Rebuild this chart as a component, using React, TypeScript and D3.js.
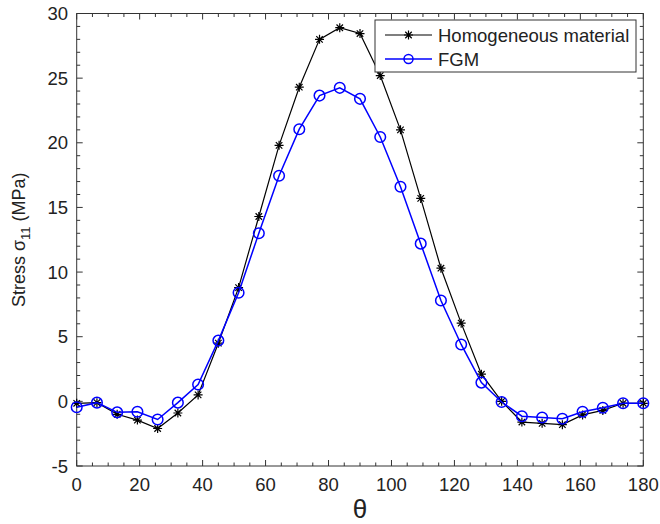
import React from "react";
import * as d3 from "d3";

const thetas = [0, 6.43, 12.86, 19.29, 25.71, 32.14, 38.57, 45, 51.43, 57.86, 64.29, 70.71, 77.14, 83.57, 90, 96.43, 102.86, 109.29, 115.71, 122.14, 128.57, 135, 141.43, 147.86, 154.29, 160.71, 167.14, 173.57, 180];
const homogeneous = [-0.15, -0.1, -1.0, -1.45, -2.1, -0.9, 0.5, 4.5, 8.8, 14.3, 19.8, 24.3, 28.0, 28.9, 28.45, 25.2, 21.0, 15.7, 10.3, 6.05, 2.1, 0.0, -1.6, -1.7, -1.8, -1.05, -0.7, -0.15, -0.15];
const fgm = [-0.45, -0.1, -0.85, -0.8, -1.4, -0.1, 1.3, 4.7, 8.4, 13.0, 17.45, 21.05, 23.65, 24.25, 23.4, 20.45, 16.6, 12.2, 7.8, 4.4, 1.45, -0.05, -1.15, -1.25, -1.35, -0.8, -0.5, -0.15, -0.15];
const xTicks = [0, 20, 40, 60, 80, 100, 120, 140, 160, 180];
const yTicks = [-5, 0, 5, 10, 15, 20, 25, 30];
const seriesNames = ["Homogeneous material", "FGM"];

const W = 660, H = 524;
const L = 76.7, R = 643.3, T = 13.5, B = 466;
const FONT = "'Liberation Sans', Arial, sans-serif";
const AX = "#333";

function Star({ x, y, r = 4.5 }: { x: number; y: number; r?: number }) {
  const d = r * 0.72;
  return (
    <path
      d={`M${x - r},${y}L${x + r},${y}M${x},${y - r}L${x},${y + r}M${x - d},${y - d}L${x + d},${y + d}M${x - d},${y + d}L${x + d},${y - d}`}
      stroke="#000"
      strokeWidth={1.2}
      fill="none"
    />
  );
}

export default function App() {
  const x = d3.scaleLinear().domain([0, 180]).range([L, R]);
  const y = d3.scaleLinear().domain([-5, 30]).range([B, T]);
  const line = d3
    .line<[number, number]>()
    .x((d) => x(d[0]))
    .y((d) => y(d[1]));
  const hData = thetas.map((t, i) => [t, homogeneous[i]] as [number, number]);
  const fData = thetas.map((t, i) => [t, fgm[i]] as [number, number]);
  const xMinor = d3.range(0, 181, 5).filter((v) => v % 20 !== 0);
  const yMinor = d3.range(-5, 31, 1).filter((v) => v % 5 !== 0);
  const MJ = 6, MN = 3.5;

  return (
    <svg width={W} height={H} style={{ position: "absolute", left: 0, top: 0, background: "#fff" }} fontFamily={FONT}>
      <rect x={0} y={0} width={W} height={H} fill="#fff" />
      {/* ticks */}
      <g stroke={AX} strokeWidth={1}>
        {xTicks.map((v) => (
          <g key={"xt" + v}>
            <line x1={x(v)} x2={x(v)} y1={B} y2={B - MJ} />
            <line x1={x(v)} x2={x(v)} y1={T} y2={T + MJ} />
          </g>
        ))}
        {xMinor.map((v) => (
          <g key={"xm" + v}>
            <line x1={x(v)} x2={x(v)} y1={B} y2={B - MN} />
            <line x1={x(v)} x2={x(v)} y1={T} y2={T + MN} />
          </g>
        ))}
        {yTicks.map((v) => (
          <g key={"yt" + v}>
            <line x1={L} x2={L + MJ} y1={y(v)} y2={y(v)} />
            <line x1={R} x2={R - MJ} y1={y(v)} y2={y(v)} />
          </g>
        ))}
        {yMinor.map((v) => (
          <g key={"ym" + v}>
            <line x1={L} x2={L + MN} y1={y(v)} y2={y(v)} />
            <line x1={R} x2={R - MN} y1={y(v)} y2={y(v)} />
          </g>
        ))}
      </g>
      <rect x={L} y={T} width={R - L} height={B - T} fill="none" stroke={AX} strokeWidth={1} />
      {/* tick labels */}
      <g fontSize={18.5} fill="#222">
        {xTicks.map((v) => (
          <text key={"xl" + v} x={x(v)} y={491} textAnchor="middle">
            {v}
          </text>
        ))}
        {yTicks.map((v) => (
          <text key={"yl" + v} x={68} y={y(v)} textAnchor="end" dominantBaseline="central">
            {v}
          </text>
        ))}
      </g>
      {/* axis labels */}
      <text x={(L + R) / 2} y={518} textAnchor="middle" fontSize={26} fill="#222">
        θ
      </text>
      <text
        transform={`translate(25,${(T + B) / 2}) rotate(-90)`}
        textAnchor="middle"
        fontSize={18}
        fill="#222"
      >
        Stress σ<tspan fontSize={13} dy={5}>11</tspan>
        <tspan dy={-5}> (MPa)</tspan>
      </text>
      {/* series */}
      <path d={line(hData) || ""} fill="none" stroke="#000" strokeWidth={1.2} />
      {hData.map((d, i) => (
        <Star key={"h" + i} x={x(d[0])} y={y(d[1])} />
      ))}
      <path d={line(fData) || ""} fill="none" stroke="#0000ff" strokeWidth={1.5} />
      {fData.map((d, i) => (
        <circle key={"f" + i} cx={x(d[0])} cy={y(d[1])} r={5.3} fill="none" stroke="#0000ff" strokeWidth={1.5} />
      ))}
      {/* legend */}
      <rect x={375} y={20} width={261} height={52} fill="#fff" stroke={AX} strokeWidth={1} />
      <line x1={385} x2={432} y1={35} y2={35} stroke="#000" strokeWidth={1.2} />
      <Star x={408.5} y={35} />
      <text x={438} y={35} dominantBaseline="central" fontSize={18.5} fill="#222">
        {seriesNames[0]}
      </text>
      <line x1={385} x2={432} y1={59} y2={59} stroke="#0000ff" strokeWidth={1.5} />
      <circle cx={408.5} cy={59} r={4.5} fill="none" stroke="#0000ff" strokeWidth={1.5} />
      <text x={438} y={59} dominantBaseline="central" fontSize={18.5} fill="#222">
        {seriesNames[1]}
      </text>
    </svg>
  );
}
